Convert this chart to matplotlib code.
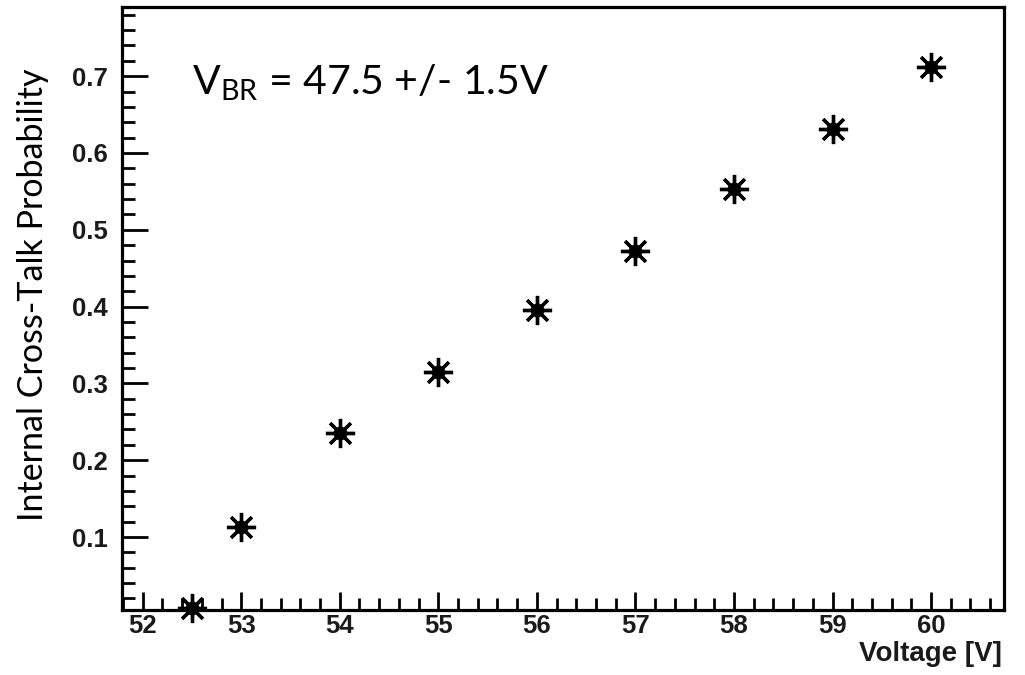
import matplotlib.pyplot as plt
from matplotlib.ticker import MultipleLocator

voltage = [52.5, 53, 54, 55, 56, 57, 58, 59, 60]
crosstalk = [0.007, 0.113, 0.236, 0.315, 0.395, 0.472, 0.553, 0.631, 0.712]
x_ticks = [52, 53, 54, 55, 56, 57, 58, 59, 60]
y_ticks = [0.1, 0.2, 0.3, 0.4, 0.5, 0.6, 0.7]

plt.rcParams['mathtext.fontset'] = 'custom'
plt.rcParams['mathtext.rm'] = 'Lato'

fig = plt.figure(figsize=(10.25, 6.75), dpi=100)
ax = fig.add_axes([0.119, 0.0963, 0.8605, 0.8933])

# ROOT-style star markers
ax.plot(voltage, crosstalk, ls='none', marker=(8, 2, 0), ms=21, mew=2.4, color='black', clip_on=False)
ax.plot(voltage, crosstalk, ls='none', marker='o', ms=9, color='black', clip_on=False)

ax.set_xlim(51.79, 60.74)
ax.set_ylim(0.005, 0.79)
ax.set_xticks(x_ticks)
ax.set_yticks(y_ticks)
ax.xaxis.set_minor_locator(MultipleLocator(0.2))
ax.yaxis.set_minor_locator(MultipleLocator(0.02))

for s in ax.spines.values():
    s.set_linewidth(2.3)

ax.tick_params(axis='both', which='both', direction='in', width=2, top=False, right=False)
ax.tick_params(axis='x', which='major', length=13, pad=3)
ax.tick_params(axis='x', which='minor', length=8.5)
ax.tick_params(axis='y', which='major', length=19, pad=10)
ax.tick_params(axis='y', which='minor', length=9.5)

for lab in ax.get_xticklabels() + ax.get_yticklabels():
    lab.set_fontfamily('Liberation Sans')
    lab.set_fontweight('bold')
    lab.set_fontsize(18.5)
    lab.set_color('#1a1a1a')

fig.text(0.977, 0.031, 'Voltage [V]', ha='right', va='center',
         fontfamily='Liberation Sans', fontweight='bold', fontsize=20, color='#1a1a1a')
fig.text(0.032, 0.564, 'Internal Cross-Talk Probability', rotation=90, ha='center', va='center',
         fontfamily='Lato', fontsize=24.5)
ax.text(0.079, 0.854, r'$\mathrm{V_{BR}}$ = 47.5 +/- 1.5V', transform=ax.transAxes,
        ha='left', va='baseline', fontfamily='Lato', fontsize=29.5)

fig.savefig('out.png', dpi=100)
